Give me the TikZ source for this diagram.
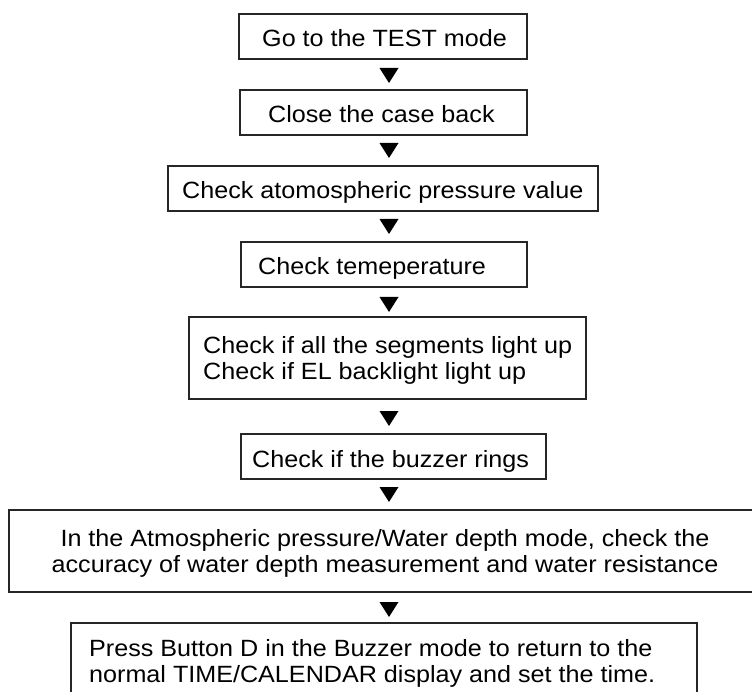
\documentclass[tikz,border=0pt]{standalone}
\usepackage{fontspec}
\setmainfont[FakeStretch=1.07]{Liberation Sans}
\begin{document}
\begin{tikzpicture}[x=1pt,y=-1pt,
  box/.style={draw=black!85,line width=1.1pt,inner sep=0pt},
  txt/.style={font=\fontsize{23.5}{26}\selectfont,inner sep=0pt,anchor=base west,align=left},
  tri/.style={fill=black}]
\clip (0,0) rectangle (752,692);
\fill[white] (0,0) rectangle (752,692);
% boxes
\node[box,minimum width=288,minimum height=45] (b1) at (383,36.5) {};
\node[box,minimum width=287,minimum height=45] (b2) at (383.5,112.5) {};
\node[box,minimum width=430,minimum height=45] (b3) at (383,188.5) {};
\node[box,minimum width=286,minimum height=45] (b4) at (384,264.5) {};
\node[box,minimum width=397,minimum height=82] (b5) at (387.5,358) {};
\node[box,minimum width=305,minimum height=45] (b6) at (393.5,456.5) {};
\node[box,minimum width=751,minimum height=82] (b7) at (384.5,551) {};
\node[box,minimum width=626,minimum height=100] (b8) at (384,673) {};
% texts (multi-line nodes: base = last line)
\node[txt] (t1) at (262,47) {Go to the TEST mode};
\node[txt] (t2) at (268,123) {Close the case back};
\node[txt] (t3) at (182,199) {Check atomospheric pressure value};
\node[txt] (t4) at (258,275) {Check temeperature};
\node[txt] (t5) at (203,380) {Check if all the segments light up\\Check if EL backlight light up};
\node[txt] (t6) at (252,467) {Check if the buzzer rings};
\node[txt,anchor=base,align=center] (t7) at (385,572) {In the Atmospheric pressure/Water depth mode, check the\\accuracy of water depth measurement and water resistance};
\node[txt] (t8) at (89,682) {Press Button D in the Buzzer mode to return to the\\normal TIME/CALENDAR display and set the time.};
% arrow marks
\foreach \n/\yy in {1/68,2/143,3/219,4/297,5/411,6/487,7/602}{
  \coordinate (a\n) at (379.5,\yy);
  \fill[tri] (a\n) -- ++(19,0) -- ++(-9.5,15) -- cycle;
}
\end{tikzpicture}
\end{document}
